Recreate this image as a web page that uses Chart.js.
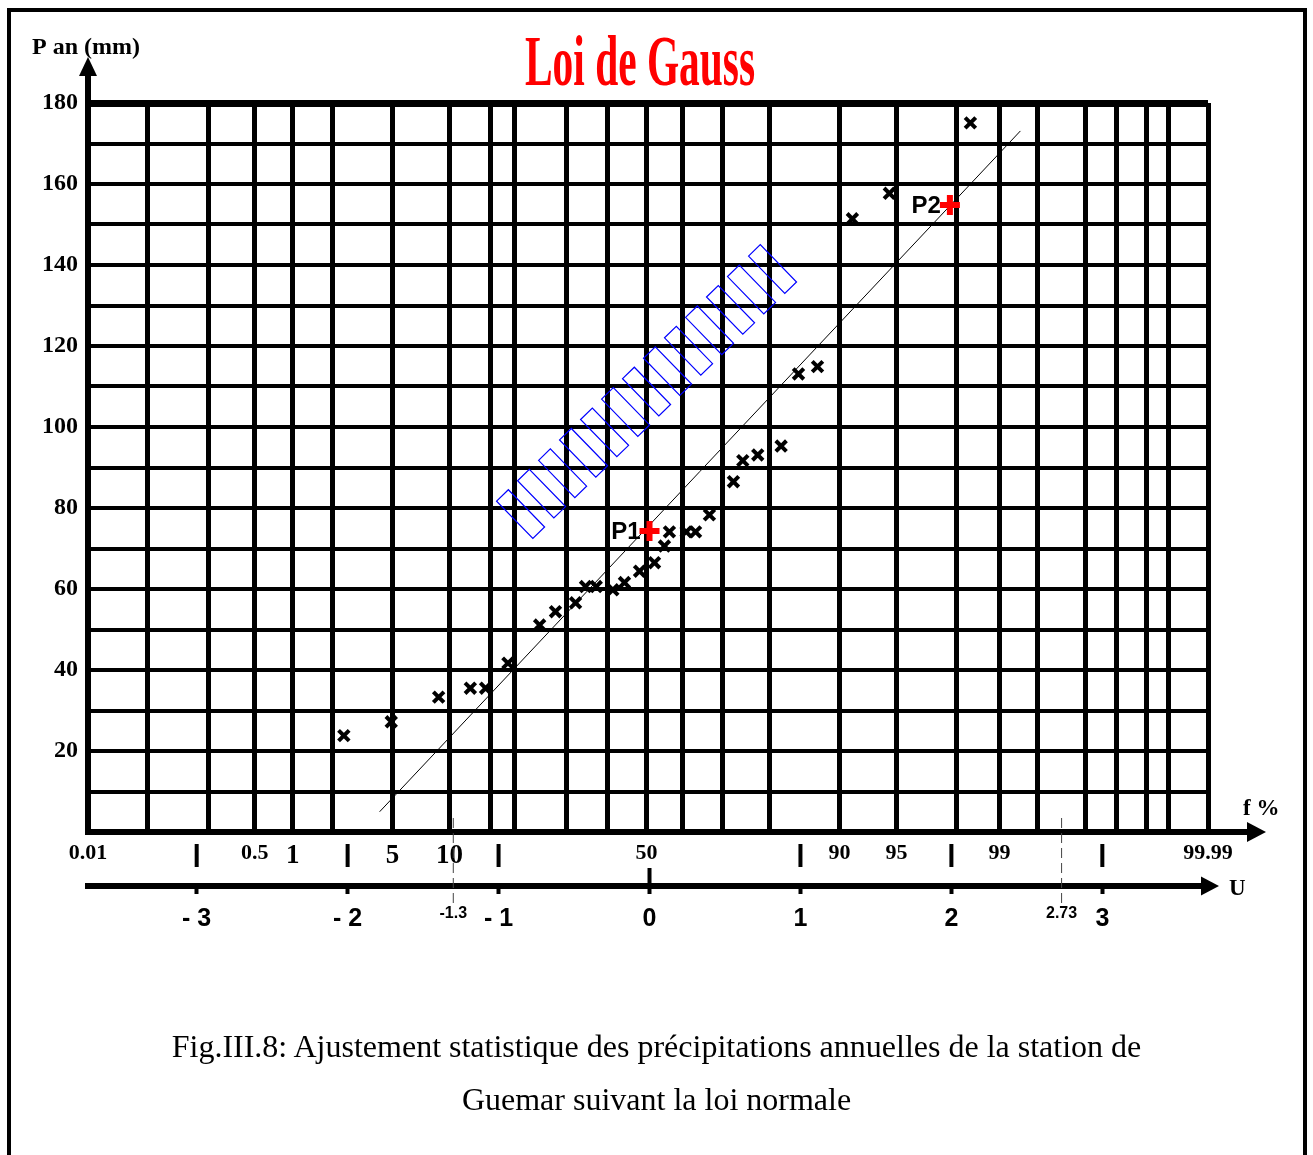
<!DOCTYPE html>
<html lang="fr">
<head>
<meta charset="UTF-8">
<title>Loi de Gauss</title>
<script src="https://cdn.jsdelivr.net/npm/chart.js"></script>
<style>
    body { margin: 0; background: #fff; }
    .page { position: relative; width: 1313px; height: 1155px; overflow: hidden; background: #fff; }
    .cadre { position: absolute; left: 7px; top: 8px; width: 1300px; height: 1200px;
             border: 4px solid #000; box-sizing: border-box; }
    .graphe { position: absolute; left: 0; top: 0; width: 1313px; height: 1155px; }
    .titre { position: absolute; left: -33px; width: 1346px; top: 25px; text-align: center;
             font: bold 72px/72px "Liberation Serif", serif; color: #ff0000;
             transform: scaleX(0.575); transform-origin: 50% 50%; white-space: nowrap; }
    .legende { position: absolute; left: 0; width: 1313px; top: 1020px; text-align: center;
               font: 32px/53px "Liberation Serif", serif; color: #000; }
</style>
</head>
<body>
<div class="page">
    <div class="graphe"><canvas id="gaussChart"></canvas></div>
    <div class="cadre"></div>
    <div class="titre">Loi de Gauss</div>
    <div class="legende">Fig.III.8: Ajustement statistique des précipitations annuelles de la station de<br>Guemar suivant la loi normale</div>
</div>

<script>
    // valeurs observées : variable réduite U et précipitation annuelle P (mm)
    const uObs = [-2.025, -1.711, -1.397, -1.187, -1.086, -0.938, -0.728, -0.623, -0.490, -0.424,
                  -0.353, -0.243, -0.166, -0.066, 0.033, 0.099, 0.132, 0.243, 0.305, 0.397,
                  0.556, 0.618, 0.717, 0.872, 0.987, 1.113, 1.344, 1.589, 2.126];
    const pObs = [23.8, 27.2, 33.3, 35.5, 35.5, 41.7, 51.1, 54.4, 56.6, 60.6,
                  60.6, 59.8, 61.6, 64.4, 66.5, 70.6, 74.1, 74.1, 74.1, 78.3,
                  86.5, 91.7, 93.1, 95.3, 113.1, 114.9, 151.4, 157.7, 175.1];

    // droite d'ajustement (extrémités)
    const uFit = [-1.788, 2.457];
    const pFit = [5.0, 173.1];

    // points P1 et P2
    const pNames = ['P1', 'P2'];
    const pU = [0, 1.99];
    const pP = [74.3, 154.8];

    // zone hachurée bleue (début, fin, nombre de cases)
    const bandU = [-0.854, 0.815];
    const bandP = [78.5, 139.0];
    const bandCount = 13;

    // lignes verticales du papier de Gauss (en U) et fréquences f %
    const gridU = [-3.72, -3.325, -2.921, -2.616, -2.364, -2.099, -1.702, -1.325, -1.053, -0.894,
                   -0.550, -0.278, -0.020, 0.219, 0.483, 0.795, 1.258, 1.636, 2.033, 2.318,
                   2.570, 2.887, 3.093, 3.291, 3.437, 3.70];
    const fLabels = ['0.01', '', '', '0.5', '1', '', '5', '10', '', '',
                     '', '', '50', '', '', '', '90', '95', '', '99',
                     '', '', '', '', '', '99.99'];
    const bigF = ['1', '5', '10'];

    // graduations de l'axe U
    const uTicks = [-3, -2, -1.3, -1, 0, 1, 2, 2.73, 3];
    const uLabels = ['- 3', '- 2', '-1.3', '- 1', '0', '1', '2', '2.73', '3'];
    const barU = [-3, -2, -1, 1, 2, 3];
    const dashU = [-1.3, 2.73];

    const uMin = -3.72, uMax = 3.70;

    function fleche(ctx, x, y, dx, dy, len, half) {
        ctx.beginPath();
        ctx.moveTo(x, y);
        ctx.lineTo(x - dx * len - dy * half, y - dy * len + dx * half);
        ctx.lineTo(x - dx * len + dy * half, y - dy * len - dx * half);
        ctx.closePath();
        ctx.fill();
    }

    const decor = {
        id: 'decor',
        afterDraw(chart) {
            const { ctx, chartArea: a } = chart;
            const x = chart.scales.x, y = chart.scales.y, u = chart.scales.u;
            ctx.save();
            ctx.fillStyle = '#000';
            ctx.strokeStyle = '#000';

            // axe P avec flèche
            ctx.lineWidth = 6;
            ctx.beginPath(); ctx.moveTo(a.left, a.top); ctx.lineTo(a.left, a.top - 32); ctx.stroke();
            fleche(ctx, a.left, a.top - 46, 0, -1, 19, 9);

            // axe f % prolongé
            ctx.beginPath(); ctx.moveTo(a.right, a.bottom); ctx.lineTo(a.right + 42, a.bottom); ctx.stroke();
            fleche(ctx, a.right + 58, a.bottom, 1, 0, 19, 10);

            // flèche de l'axe U
            fleche(ctx, a.right + 11, u.top, 1, 0, 18, 9.5);

            // petits traits sous l'axe f %
            ctx.lineWidth = 4;
            barU.forEach(v => {
                const px = x.getPixelForValue(v);
                ctx.beginPath(); ctx.moveTo(px, a.bottom + 12); ctx.lineTo(px, a.bottom + 35); ctx.stroke();
            });
            const p0 = x.getPixelForValue(0);
            ctx.beginPath(); ctx.moveTo(p0, a.bottom + 36); ctx.lineTo(p0, u.top); ctx.stroke();

            // lignes pointillées
            ctx.lineWidth = 1;
            ctx.strokeStyle = '#444';
            ctx.setLineDash([10, 5]);
            dashU.forEach(v => {
                const px = x.getPixelForValue(v);
                ctx.beginPath(); ctx.moveTo(px, a.bottom - 14); ctx.lineTo(px, u.top + 18); ctx.stroke();
            });
            ctx.setLineDash([]);

            // cases bleues
            const b0x = x.getPixelForValue(bandU[0]), b0y = y.getPixelForValue(bandP[0]);
            const b1x = x.getPixelForValue(bandU[1]), b1y = y.getPixelForValue(bandP[1]);
            const L = Math.hypot(b1x - b0x, b1y - b0y);
            const ux = (b1x - b0x) / L, uy = (b1y - b0y) / L;
            const nx = -uy, ny = ux;
            const hw = 8.2, hl = 26;
            ctx.strokeStyle = '#0000ff';
            ctx.lineWidth = 1.2;
            for (let i = 0; i < bandCount; i++) {
                const t = i / (bandCount - 1);
                const cx = b0x + (b1x - b0x) * t, cy = b0y + (b1y - b0y) * t;
                ctx.beginPath();
                ctx.moveTo(cx - ux * hw - nx * hl, cy - uy * hw - ny * hl);
                ctx.lineTo(cx + ux * hw - nx * hl, cy + uy * hw - ny * hl);
                ctx.lineTo(cx + ux * hw + nx * hl, cy + uy * hw + ny * hl);
                ctx.lineTo(cx - ux * hw + nx * hl, cy - uy * hw + ny * hl);
                ctx.closePath();
                ctx.stroke();
            }

            // étiquettes P1, P2
            ctx.fillStyle = '#000';
            ctx.font = 'bold 24px "Liberation Sans"';
            ctx.textAlign = 'right';
            ctx.textBaseline = 'middle';
            pNames.forEach((n, i) => {
                ctx.fillText(n, x.getPixelForValue(pU[i]) - 9, y.getPixelForValue(pP[i]) + 1);
            });

            // titres des axes
            ctx.textAlign = 'left';
            ctx.textBaseline = 'alphabetic';
            ctx.font = 'bold 24px "Liberation Serif"';
            ctx.fillText('P an (mm)', 32, 54);
            ctx.font = 'bold 23px "Liberation Serif"';
            ctx.fillText('f %', 1243, 815);
            ctx.fillText('U', 1229, 895);
            ctx.restore();
        }
    };

    const config = {
        type: 'scatter',
        data: {
            datasets: [{
                label: 'Observations',
                data: uObs.map((v, i) => ({ x: v, y: pObs[i] })),
                pointStyle: 'crossRot',
                pointRadius: 7.5,
                pointBorderWidth: 4,
                pointBorderColor: '#000',
                borderColor: '#000',
                order: 1
            }, {
                label: 'Ajustement',
                type: 'line',
                data: uFit.map((v, i) => ({ x: v, y: pFit[i] })),
                borderColor: '#000',
                borderWidth: 1,
                pointRadius: 0,
                fill: false,
                order: 2
            }, {
                label: 'P1 P2',
                data: pU.map((v, i) => ({ x: v, y: pP[i] })),
                pointStyle: 'cross',
                pointRadius: 10,
                pointBorderWidth: 6,
                pointBorderColor: '#ff0000',
                borderColor: '#ff0000',
                order: 0
            }]
        },
        options: {
            responsive: true,
            maintainAspectRatio: false,
            animation: false,
            layout: { padding: { left: 0, right: 105, top: 103, bottom: 0 } },
            scales: {
                x: {
                    type: 'linear',
                    position: 'bottom',
                    weight: 0,
                    min: uMin,
                    max: uMax,
                    afterBuildTicks: s => { s.ticks = gridU.map(v => ({ value: v })); },
                    afterFit: s => { s.height = 54; },
                    grid: { color: '#000', lineWidth: 5, drawTicks: false },
                    border: { color: '#000', width: 6 },
                    ticks: {
                        autoSkip: false,
                        maxRotation: 0,
                        padding: 8,
                        color: '#000',
                        callback: (v, i) => fLabels[i],
                        font: c => bigF.includes(fLabels[c.index])
                            ? { family: 'Liberation Serif', size: 27, weight: 'bold' }
                            : { family: 'Liberation Serif', size: 22, weight: 'bold' }
                    }
                },
                u: {
                    type: 'linear',
                    position: 'bottom',
                    weight: 1,
                    min: uMin,
                    max: uMax,
                    afterBuildTicks: s => { s.ticks = uTicks.map(v => ({ value: v })); },
                    afterFit: s => { s.height = 1155 - 886; },
                    grid: {
                        drawOnChartArea: false,
                        drawTicks: true,
                        tickLength: 8,
                        tickWidth: 4,
                        color: '#000',
                        tickColor: c => (c.tick && Number.isInteger(c.tick.value)) ? '#000' : 'rgba(0,0,0,0)'
                    },
                    border: { color: '#000', width: 6 },
                    ticks: {
                        autoSkip: false,
                        maxRotation: 0,
                        padding: 10,
                        color: '#000',
                        callback: (v, i) => uLabels[i],
                        font: c => dashU.includes(uTicks[c.index])
                            ? { family: 'Liberation Sans', size: 16, weight: 'bold' }
                            : { family: 'Liberation Sans', size: 25, weight: 'bold' }
                    }
                },
                y: {
                    type: 'linear',
                    position: 'left',
                    min: 0,
                    max: 180,
                    afterFit: s => { s.width = 88; },
                    grid: {
                        color: '#000',
                        drawTicks: false,
                        lineWidth: c => (c.tick && c.tick.value === 180) ? 7 : 4
                    },
                    border: { color: '#000', width: 6 },
                    ticks: {
                        stepSize: 10,
                        padding: 10,
                        color: '#000',
                        font: { family: 'Liberation Serif', size: 24, weight: 'bold' },
                        callback: v => (v > 0 && v % 20 === 0) ? v : ''
                    }
                }
            },
            plugins: {
                legend: { display: false },
                tooltip: { enabled: false },
                title: { display: false }
            }
        },
        plugins: [decor]
    };

    const gaussChart = new Chart(document.getElementById('gaussChart'), config);
</script>
</body>
</html>
